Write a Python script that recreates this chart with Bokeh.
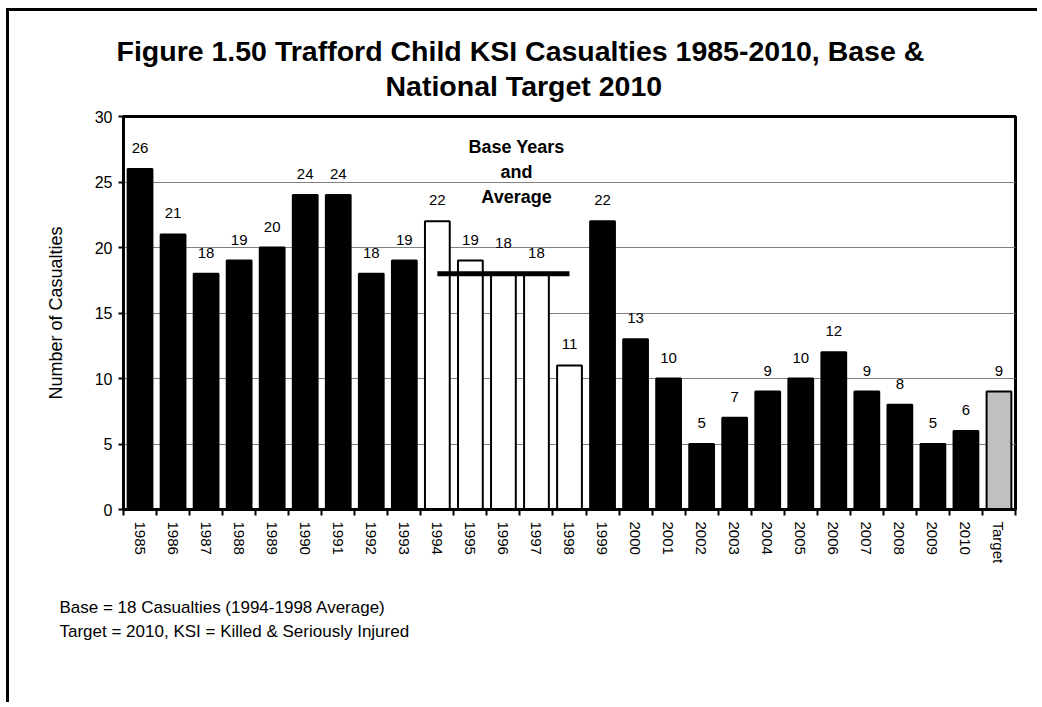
from bokeh.plotting import figure
from bokeh.models import FixedTicker, Range1d, Title, ColumnDataSource
from bokeh.core.properties import value
from bokeh.embed import file_html
from bokeh.resources import INLINE

# ---- data ----
categories = ["1985", "1986", "1987", "1988", "1989", "1990", "1991", "1992", "1993",
              "1994", "1995", "1996", "1997", "1998", "1999", "2000", "2001", "2002",
              "2003", "2004", "2005", "2006", "2007", "2008", "2009", "2010", "Target"]
casualties = [26, 21, 18, 19, 20, 24, 24, 18, 19, 22, 19, 18, 18, 11, 22, 13, 10, 5,
              7, 9, 10, 12, 9, 8, 5, 6, 9]
base_years = ["1994", "1995", "1996", "1997", "1998"]
base_average = 18
target_label = "Target"
y_ticks = [0, 5, 10, 15, 20, 25, 30]
title_lines = ["Figure 1.50 Trafford Child KSI Casualties 1985-2010, Base &",
               "National Target 2010"]
notes = ["Base = 18 Casualties (1994-1998 Average)",
         "Target = 2010, KSI = Killed & Seriously Injured"]
annotation_lines = ["Base Years", "and", "Average"]

FONT = "Liberation Sans"

# ---- geometry (canvas pixels) ----
W, H = 1031, 694
FL, FR, FT, FB = 114, 1006, 105, 498  # frame edges on canvas
n = len(categories)
ymax = 30
px_x = (FR - FL) / n
px_y = (FB - FT) / ymax


def dx(cx):  # canvas px -> data x
    return (cx - FL) / px_x


def dy(cy):  # canvas px -> data y
    return (FB - cy) / px_y


xs = [i + 0.5 for i in range(n)]
fills = []
for c in categories:
    if c in base_years:
        fills.append("white")
    elif c == target_label:
        fills.append("#c0c0c0")
    else:
        fills.append("black")
label_off = [-16 if c != "1996" else -26 for c in categories]

src = ColumnDataSource(dict(x=xs, top=casualties, fill=fills,
                            txt=[str(v) for v in casualties], off=label_off))

p = figure(width=W, height=H, output_backend="svg", toolbar_location=None,
           x_range=Range1d(0, n), y_range=Range1d(0, ymax),
           min_border_left=FL, min_border_right=W - FR,
           min_border_top=FT, min_border_bottom=H - FB)
p.margin = (8, 0, 0, 6)
p.styles = {"border-left": "3px solid black", "border-top": "3px solid black"}
p.background_fill_color = "white"
p.border_fill_color = "white"
p.outline_line_color = "black"
p.outline_line_width = 3

p.vbar(x="x", top="top", bottom=0, width=0.75, fill_color="fill",
       line_color="black", line_width=2, source=src)

p.text(x="x", y="top", text="txt", y_offset="off", source=src,
       text_align="center", text_baseline="bottom",
       text_font=value(FONT), text_font_size="15px", text_color="black")

# base average line
i0 = categories.index(base_years[0]) + 0.5
i1 = categories.index(base_years[-1]) + 0.5
p.segment(x0=[i0], y0=[base_average], x1=[i1], y1=[base_average],
          line_color="black", line_width=5)

ann_y = [dy(FT + 30), dy(FT + 55), dy(FT + 80)]
p.text(x=[dx(507)] * 3, y=ann_y, text=annotation_lines, text_align="center",
       text_baseline="middle", text_font=value(FONT), text_font_size="18px",
       text_font_style="bold", text_color="black")

# axes
p.xgrid.visible = False
p.ygrid.grid_line_color = "#808080"
p.ygrid.grid_line_width = 1
p.ygrid.ticker = FixedTicker(ticks=y_ticks)

p.xaxis.ticker = FixedTicker(ticks=xs, minor_ticks=list(range(n + 1)))
p.xaxis.major_label_overrides = {x: c for x, c in zip(xs, categories)}
p.xaxis.major_label_orientation = "vertical"
p.xaxis.major_tick_out = 0
p.xaxis.major_tick_in = 0
p.xaxis.minor_tick_out = 6
p.xaxis.minor_tick_in = 0
p.xaxis.minor_tick_line_width = 2
p.xaxis.minor_tick_line_color = "black"
p.xaxis.major_label_standoff = 6
p.xaxis.axis_line_width = 3
p.xaxis.axis_line_color = "black"
p.xaxis.major_label_text_font = FONT
p.xaxis.major_label_text_font_size = "15px"
p.xaxis.major_label_text_color = "black"

p.yaxis.ticker = FixedTicker(ticks=y_ticks)
p.yaxis.major_tick_out = 5
p.yaxis.major_tick_in = 0
p.yaxis.minor_tick_out = 0
p.yaxis.minor_tick_in = 0
p.yaxis.major_tick_line_width = 2
p.yaxis.major_label_standoff = 6
p.yaxis.axis_line_width = 3
p.yaxis.axis_line_color = "black"
p.yaxis.major_label_text_font = FONT
p.yaxis.major_label_text_font_size = "16px"
p.yaxis.major_label_text_color = "black"
p.yaxis.axis_label = "Number of Casualties"
p.yaxis.axis_label_text_font = FONT
p.yaxis.axis_label_text_font_size = "18px"
p.yaxis.axis_label_text_font_style = "normal"
p.yaxis.axis_label_text_color = "black"
p.yaxis.axis_label_standoff = 26

# title: panels in "above" stack top-down in list order
p.title.text = title_lines[0]
p.title.align = "left"
p.title.offset = -7
p.title.standoff = -27
p.title.text_font = FONT
p.title.text_font_size = "28.5px"
p.title.text_font_style = "bold"
p.title.text_color = "black"
p.add_layout(Title(text=title_lines[1], align="left", offset=262, standoff=29,
                   text_font=FONT, text_font_size="28.5px",
                   text_font_style="bold", text_color="black"), "above")

# notes below the axis
p.add_layout(Title(text=" ", text_font=FONT, text_font_size="20px", standoff=4),
             "below")
for txt in notes:
    p.add_layout(Title(text=txt, align="left", offset=-64, standoff=3,
                       text_font=FONT, text_font_size="17px",
                       text_font_style="normal", text_color="black"), "below")

open("out.html", "w").write(file_html(p, INLINE))
